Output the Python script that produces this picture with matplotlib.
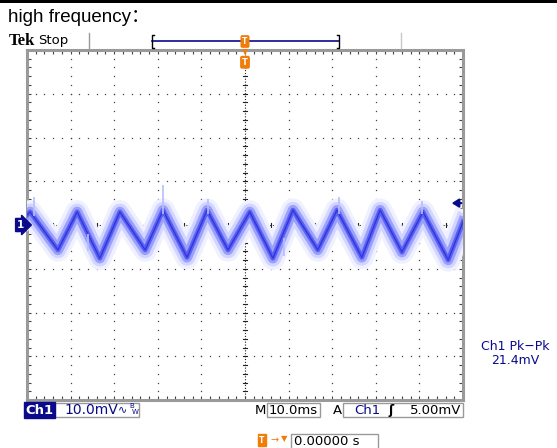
import matplotlib
matplotlib.use('Agg')
import numpy as np
import matplotlib.pyplot as plt
from matplotlib.patches import Rectangle

# trace vertices (time in ms, voltage in mV)
trace_t = [-50, -49.3, -42.9, -38.5, -33.3, -28.7, -22.9, -18.8, -13.3, -8.7, -3.9,
           1.1, 6.4, 11.0, 16.7, 21.1, 26.8, 31.0, 36.0, 40.8, 46.6, 50]
trace_v = [2.3, 3.0, -5.7, 3.0, -7.6, 3.0, -5.7, 3.4, -7.4, 3.4, -5.7,
           3.0, -7.6, 3.4, -5.7, 3.4, -7.4, 3.4, -6.2, 3.0, -8.0, 0.7]
# a few noise spikes: time, low, high
glitch_t = [-48.5, -18.8, -8.5, 21.5, 40.5, -36.0, 9.0]
glitch_lo = [2.0, 2.5, 2.5, 2.5, 2.5, -6.0, -7.0]
glitch_hi = [6.5, 9.2, 6.0, 6.5, 5.5, -2.0, -3.0]

trig_level = 5.0
ch_label = "Ch1"
volts_div = "10.0mV"
time_div = "10.0ms"
trig_txt = "5.00mV"
meas_name = "Ch1 Pk\u2212Pk"
meas_val = "21.4mV"
trig_pos = "0.00000 s"

W, H = 557, 448
NAVY = '#0a0a8c'
ORANGE = '#f07d0a'
GRID = '#444444'

fig = plt.figure(figsize=(W / 100, H / 100), dpi=100)
fig.patch.set_facecolor('white')


def fx(x):
    return x / W


def fy(y):
    return 1 - y / H


def box(x0, y0, x1, y1, fc='none', ec='#9a9a9a', lw=1.0):
    fig.patches.append(Rectangle((fx(x0), fy(y1)), fx(x1) - fx(x0), fy(y0) - fy(y1),
                                 transform=fig.transFigure, fc=fc, ec=ec, lw=lw))


# top black rule
box(0, 0, W, 3, fc='black', ec='none')

ax = fig.add_axes([fx(27), fy(400), fx(463) - fx(27), fy(50) - fy(400)])
ax.set_xlim(-50, 50)
ax.set_ylim(-40, 40)
for s in ax.spines.values():
    s.set_color('#9a9a9a')
    s.set_linewidth(2.2)
ax.set_xticks(np.arange(-50, 51, 2))
ax.set_yticks(np.arange(-40, 41, 2))
ax.tick_params(direction='in', length=3, width=0.8, color=GRID, top=True, right=True,
               labelbottom=False, labelleft=False)

# dotted graticule
fine = np.arange(-50, 50.1, 2)
fine_v = np.arange(-40, 40.1, 2)
for tv in range(-40, 41, 10):
    ax.plot([tv] * len(fine_v), fine_v, ls='none', marker='s', ms=0.9, mew=0, color=GRID)
for vv in range(-30, 31, 10):
    ax.plot(fine, [vv] * len(fine), ls='none', marker='s', ms=0.9, mew=0, color=GRID)
ax.axhline(0, color='#222222', lw=0.8, ls=(0, (1, 1.6)))
ax.axvline(0, color='#222222', lw=0.8, ls=(0, (1, 1.6)))
for tv in fine:
    ax.plot([tv, tv], [-0.5, 0.5], color='#222222', lw=0.8)
for vv in fine_v:
    ax.plot([-0.5, 0.5], [vv, vv], color='#222222', lw=0.8)

# trace, drawn as a soft noisy band
ax.plot(trace_t, trace_v, color='#f0f1ff', lw=17, solid_joinstyle='round', zorder=3)
ax.plot(trace_t, trace_v, color='#d2d5ff', lw=12, solid_joinstyle='round', zorder=3)
ax.plot(trace_t, trace_v, color='#9aa0fa', lw=7.5, solid_joinstyle='round', zorder=3)
ax.plot(trace_t, trace_v, color='#5a60f0', lw=3.5, solid_joinstyle='round', zorder=3)
ax.plot(trace_t, trace_v, color='#3036e0', lw=1.0, solid_joinstyle='round', zorder=3)
ax.vlines(glitch_t, glitch_lo, glitch_hi, color='#b8bdff', lw=1.2, zorder=3)

# channel ground marker and trigger level arrow
ax.text(-50.6, 0, "1", ha='right', va='center', color='white', fontsize=7.5, fontweight='bold',
        clip_on=False, zorder=5,
        bbox=dict(boxstyle='rarrow,pad=0.15', fc=NAVY, ec=NAVY))
ax.annotate("", xy=(47.4, trig_level), xytext=(49.6, trig_level),
            arrowprops=dict(arrowstyle='-|>,head_length=0.4,head_width=0.25', color=NAVY, lw=1.6,
                            shrinkA=0, shrinkB=0),
            annotation_clip=False, zorder=5)

# trigger position marker under the top edge
ax.plot([0], [39.6], marker='v', ms=4.5, color=ORANGE, mew=0, clip_on=False, zorder=6)
ax.text(0, 37.2, "T", ha='center', va='center', color='white', fontsize=6, fontweight='bold',
        zorder=6, bbox=dict(boxstyle='round,pad=0.15', fc=ORANGE, ec=ORANGE))

# header
fig.text(fx(8), fy(18), "high frequency\uff1a", fontsize=13.5, family=['Liberation Sans', 'Noto Sans CJK SC'],
         ha='left', va='center', color='black')
fig.text(fx(9), fy(41), "Tek", fontsize=12, family='Liberation Serif', fontweight='bold',
         ha='left', va='center')
fig.text(fx(38), fy(40.5), "Stop", fontsize=9.5, ha='left', va='center')
fig.lines.append(plt.Line2D([fx(89), fx(89)], [fy(33), fy(48)], transform=fig.transFigure,
                            color='#9a9a9a', lw=1))
fig.lines.append(plt.Line2D([fx(401), fx(401)], [fy(33), fy(48)], transform=fig.transFigure,
                            color='#c8c8c8', lw=1))
fig.lines.append(plt.Line2D([fx(152), fx(339)], [fy(41.5), fy(41.5)], transform=fig.transFigure,
                            color=NAVY, lw=1.2))
fig.lines.append(plt.Line2D([fx(154), fx(152), fx(152), fx(154)], [fy(35), fy(35), fy(48), fy(48)],
                            transform=fig.transFigure, color='black', lw=1))
fig.lines.append(plt.Line2D([fx(337), fx(339), fx(339), fx(337)], [fy(35), fy(35), fy(48), fy(48)],
                            transform=fig.transFigure, color='black', lw=1))
fig.text(fx(245), fy(41.5), "T", ha='center', va='center', color='white', fontsize=5.5,
         fontweight='bold', bbox=dict(boxstyle='round,pad=0.15', fc=ORANGE, ec=ORANGE))

# bottom status line
fig.text(fx(39.5), fy(410), ch_label, ha='center', va='center', color='white', fontsize=9.5,
         fontweight='bold', bbox=dict(boxstyle='square,pad=0.12', fc=NAVY, ec=NAVY))
box(53, 403, 139, 417)
fig.text(fx(64), fy(410), volts_div, ha='left', va='center', color=NAVY, fontsize=10)
fig.text(fx(118), fy(409), "\u223f", ha='left', va='center', color=NAVY, fontsize=8)
fig.text(fx(129), fy(406), "B", ha='left', va='center', color=NAVY, fontsize=5)
fig.text(fx(132), fy(412), "W", ha='left', va='center', color=NAVY, fontsize=5)

fig.text(fx(255), fy(410), "M", ha='left', va='center', color='black', fontsize=9.5)
box(267, 403, 320, 417)
fig.text(fx(269), fy(410), time_div, ha='left', va='center', color='black', fontsize=9.5)
fig.text(fx(333), fy(410), "A", ha='left', va='center', color='black', fontsize=9.5)
box(343, 403, 463, 417)
fig.text(fx(354), fy(410), ch_label, ha='left', va='center', color=NAVY, fontsize=9.5)
fig.text(fx(391), fy(410), "\u0283", ha='center', va='center', color='black', fontsize=9,
         fontweight='bold')
fig.text(fx(461), fy(410), trig_txt, ha='right', va='center', color='black', fontsize=9.5)

# trigger position readout
fig.text(fx(262), fy(440), "T", ha='center', va='center', color='white', fontsize=5.5,
         fontweight='bold', bbox=dict(boxstyle='square,pad=0.2', fc=ORANGE, ec=ORANGE))
fig.text(fx(275), fy(440), "\u2192", ha='center', va='center', color=ORANGE, fontsize=7)
fig.text(fx(284), fy(439), "\u25bc", ha='center', va='center', color=ORANGE, fontsize=6)
box(291, 434, 378, 450)
fig.text(fx(294), fy(441), trig_pos, ha='left', va='center', color='black', fontsize=9.5)

# measurement readout
fig.text(fx(515), fy(347), meas_name, ha='center', va='center', color=NAVY, fontsize=9)
fig.text(fx(515), fy(361), meas_val, ha='center', va='center', color=NAVY, fontsize=9)

fig.savefig('out.png', dpi=100)
